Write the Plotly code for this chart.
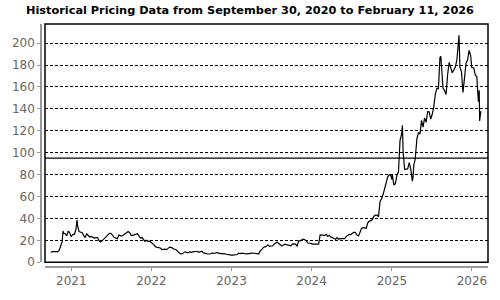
import plotly.graph_objects as go

TITLE = "Historical Pricing Data from September 30, 2020 to February 11, 2026"

dates = [
    "2020-09-30", "2020-10-02", "2020-10-09", "2020-10-16", "2020-10-23", "2020-10-30",
    "2020-11-06", "2020-11-13", "2020-11-20", "2020-11-24", "2020-11-27", "2020-12-04",
    "2020-12-11", "2020-12-18", "2020-12-24", "2020-12-31",
    "2021-01-08", "2021-01-15", "2021-01-22", "2021-01-27", "2021-01-29", "2021-02-05",
    "2021-02-12", "2021-02-19", "2021-02-26", "2021-03-05", "2021-03-12", "2021-03-19",
    "2021-03-26", "2021-04-01", "2021-04-09", "2021-04-16", "2021-04-23", "2021-04-30",
    "2021-05-07", "2021-05-14", "2021-05-21", "2021-05-28", "2021-06-04", "2021-06-11",
    "2021-06-18", "2021-06-25", "2021-07-02", "2021-07-09", "2021-07-16", "2021-07-23",
    "2021-07-30", "2021-08-06", "2021-08-13", "2021-08-20", "2021-08-27", "2021-09-03",
    "2021-09-10", "2021-09-17", "2021-09-24", "2021-10-01", "2021-10-08", "2021-10-15",
    "2021-10-22", "2021-10-29", "2021-11-05", "2021-11-12", "2021-11-19", "2021-11-26",
    "2021-12-03", "2021-12-10", "2021-12-17", "2021-12-23", "2021-12-31",
    "2022-01-07", "2022-01-14", "2022-01-21", "2022-01-28", "2022-02-04", "2022-02-11",
    "2022-02-18", "2022-02-25", "2022-03-04", "2022-03-11", "2022-03-18", "2022-03-25",
    "2022-04-01", "2022-04-08", "2022-04-14", "2022-04-22", "2022-04-29", "2022-05-06",
    "2022-05-13", "2022-05-20", "2022-05-27", "2022-06-03", "2022-06-10", "2022-06-17",
    "2022-06-24", "2022-07-01", "2022-07-08", "2022-07-15", "2022-07-22", "2022-07-29",
    "2022-08-05", "2022-08-12", "2022-08-19", "2022-08-26", "2022-09-02", "2022-09-09",
    "2022-09-16", "2022-09-23", "2022-09-30", "2022-10-07", "2022-10-14", "2022-10-21",
    "2022-10-28", "2022-11-04", "2022-11-11", "2022-11-18", "2022-11-25", "2022-12-02",
    "2022-12-09", "2022-12-16", "2022-12-23", "2022-12-30",
    "2023-01-06", "2023-01-13", "2023-01-20", "2023-01-27", "2023-02-03", "2023-02-10",
    "2023-02-17", "2023-02-24", "2023-03-03", "2023-03-10", "2023-03-17", "2023-03-24",
    "2023-03-31", "2023-04-06", "2023-04-14", "2023-04-21", "2023-04-28", "2023-05-05",
    "2023-05-12", "2023-05-19", "2023-05-26", "2023-06-02", "2023-06-09", "2023-06-16",
    "2023-06-23", "2023-06-30", "2023-07-07", "2023-07-14", "2023-07-21", "2023-07-28",
    "2023-08-04", "2023-08-11", "2023-08-18", "2023-08-25", "2023-09-01", "2023-09-08",
    "2023-09-15", "2023-09-22", "2023-09-29", "2023-10-06", "2023-10-13", "2023-10-20",
    "2023-10-27", "2023-11-03", "2023-11-10", "2023-11-17", "2023-11-24", "2023-12-01",
    "2023-12-08", "2023-12-15", "2023-12-22", "2023-12-29",
    "2024-01-05", "2024-01-12", "2024-01-19", "2024-01-26", "2024-02-02", "2024-02-09",
    "2024-02-16", "2024-02-23", "2024-03-01", "2024-03-08", "2024-03-15", "2024-03-22",
    "2024-03-28", "2024-04-05", "2024-04-12", "2024-04-19", "2024-04-26", "2024-05-03",
    "2024-05-10", "2024-05-17", "2024-05-24", "2024-05-31", "2024-06-07", "2024-06-14",
    "2024-06-21", "2024-06-28", "2024-07-05", "2024-07-12", "2024-07-19", "2024-07-26",
    "2024-08-02", "2024-08-09", "2024-08-16", "2024-08-23", "2024-08-30", "2024-09-06",
    "2024-09-13", "2024-09-20", "2024-09-27", "2024-10-04", "2024-10-11", "2024-10-18",
    "2024-10-25", "2024-11-01", "2024-11-08", "2024-11-15", "2024-11-22", "2024-11-29",
    "2024-12-06", "2024-12-13", "2024-12-20", "2024-12-27", "2024-12-31",
    "2025-01-03", "2025-01-10", "2025-01-17", "2025-01-24", "2025-01-31", "2025-02-07",
    "2025-02-14", "2025-02-18", "2025-02-21", "2025-02-28", "2025-03-07", "2025-03-14",
    "2025-03-21", "2025-03-28", "2025-04-04", "2025-04-07", "2025-04-11", "2025-04-17",
    "2025-04-25", "2025-05-02", "2025-05-09", "2025-05-16", "2025-05-23", "2025-05-30",
    "2025-06-06", "2025-06-13", "2025-06-20", "2025-06-27", "2025-07-03", "2025-07-11",
    "2025-07-18", "2025-07-25", "2025-08-01", "2025-08-08", "2025-08-12", "2025-08-15",
    "2025-08-22", "2025-08-29", "2025-09-05", "2025-09-12", "2025-09-19", "2025-09-26",
    "2025-10-03", "2025-10-10", "2025-10-17", "2025-10-24", "2025-10-31", "2025-11-03",
    "2025-11-07", "2025-11-14", "2025-11-21", "2025-11-28", "2025-12-05", "2025-12-12",
    "2025-12-19", "2025-12-26", "2025-12-31",
    "2026-01-09", "2026-01-16", "2026-01-23", "2026-01-30", "2026-02-03", "2026-02-05",
    "2026-02-09", "2026-02-11",
]

prices = [
    9.5, 9.2, 9.6, 9.9, 9.8, 9.5,
    10.6, 14.6, 18.5, 28.5, 26.5, 26.0,
    24.0, 28.5, 27.0, 23.6,
    25.2, 25.6, 30.0, 38.5, 34.0, 28.0,
    27.5, 27.0, 24.5, 22.5, 26.0, 24.0,
    23.0, 23.5, 23.0, 22.0, 22.5, 22.5,
    20.0, 18.5, 19.5, 21.0, 22.0, 24.0,
    25.0, 26.5, 26.0, 24.0, 22.5, 22.0,
    21.5, 25.0, 24.0, 24.0, 25.5, 26.0,
    27.0, 28.0, 27.0, 24.5, 24.5, 25.0,
    25.0, 26.0, 24.0, 22.0, 22.5, 21.0,
    19.0, 20.0, 19.0, 19.2, 18.2,
    17.0, 15.5, 14.0, 13.5, 13.5, 13.0,
    11.5, 12.0, 12.0, 11.5, 13.0, 13.8,
    13.5, 12.5, 12.0, 11.5, 10.3, 9.5,
    7.5, 7.5, 8.5, 9.5, 9.0, 8.5,
    9.5, 9.0, 9.5, 9.5, 9.5, 10.0,
    9.0, 9.5, 10.0, 8.5, 8.0, 8.0,
    7.5, 7.5, 8.1, 8.5, 8.0, 8.5,
    9.0, 8.0, 8.0, 7.8, 7.8, 7.7,
    7.3, 6.8, 6.3, 6.4,
    6.5, 6.8, 6.9, 7.0, 8.3, 7.8,
    8.3, 7.8, 7.8, 7.7, 7.9, 8.0,
    8.5, 8.3, 8.2, 8.3, 7.8, 7.4,
    10.5, 11.5, 13.5, 14.0, 14.5, 15.8,
    14.5, 14.8, 14.8, 16.5, 18.0, 18.5,
    17.0, 15.8, 15.0, 15.5, 16.5, 16.0,
    15.8, 15.3, 15.0, 16.8, 16.5, 16.5,
    14.5, 19.5, 19.5, 20.5, 21.0, 20.5,
    19.5, 17.5, 17.5, 17.2,
    16.5, 16.5, 16.0, 16.5, 16.5, 25.0,
    25.0, 24.5, 24.5, 25.5, 23.5, 24.5,
    23.0, 22.5, 21.5, 21.0, 22.5, 21.0,
    21.5, 21.5, 21.0, 21.5, 23.5, 24.5,
    25.5, 25.3, 26.5, 27.5, 27.0, 24.8,
    24.0, 28.5, 31.0, 31.5, 31.5, 31.0,
    36.0, 37.5, 38.0, 39.0, 42.0, 43.0,
    43.0, 41.5, 55.5, 58.0, 62.0, 67.0,
    72.0, 78.0, 80.0, 79.5, 75.6,
    79.8, 70.5, 71.8, 79.5, 82.5, 111.0,
    117.0, 125.0, 101.0, 84.8, 84.8, 85.2,
    90.9, 85.0, 74.0, 77.0, 88.6, 93.8,
    112.8, 118.4, 117.0, 129.5, 123.3, 131.8,
    127.7, 137.4, 137.3, 130.7, 134.4, 142.1,
    153.5, 158.8, 158.4, 186.9, 188.0, 177.2,
    158.7, 156.7, 153.1, 171.4, 182.4, 177.6,
    173.0, 175.4, 178.2, 184.6, 200.5, 207.2,
    177.9, 174.0, 154.9, 168.5, 181.8, 184.9,
    193.4, 188.7, 177.8,
    177.5, 170.9, 169.6, 146.6, 157.0, 129.0,
    136.0, 138.0,
]

y_ticks = [0, 20, 40, 60, 80, 100, 120, 140, 160, 180, 200]
x_ticks = ["2021-01-01", "2022-01-01", "2023-01-01", "2024-01-01", "2025-01-01", "2026-01-01"]
x_tick_labels = ["2021", "2022", "2023", "2024", "2025", "2026"]
ref_level = 95

fig = go.Figure()
fig.add_trace(go.Scatter(x=dates, y=prices, mode="lines",
                         line=dict(color="black", width=1.2), hoverinfo="skip"))

axis_gray = "#999999"
label_font = dict(family="DejaVu Sans", size=12, color="#666666")

fig.update_layout(
    width=500, height=300,
    margin=dict(l=41, r=12, t=24, b=22),
    paper_bgcolor="white", plot_bgcolor="white",
    showlegend=False,
    title=dict(text="<b>" + TITLE + "</b>", x=0.5, xanchor="center",
               y=1 - 10 / 300, yanchor="middle", yref="container",
               font=dict(family="DejaVu Sans", size=11.3, color="black")),
    xaxis=dict(type="date", domain=[4 / 447, 1], anchor="free", position=0,
               range=["2020-09-03", "2026-03-15"],
               tickvals=x_ticks, ticktext=x_tick_labels,
               showgrid=False, zeroline=False,
               showline=True, linecolor=axis_gray, linewidth=1.5,
               ticks="outside", ticklen=3, tickcolor=axis_gray, tickwidth=1,
               tickfont=label_font),
    yaxis=dict(domain=[5 / 254, 1], anchor="free", position=0,
               range=[0, 217.5], tickvals=y_ticks,
               showgrid=True, gridcolor="black", gridwidth=1, griddash="3px,2px",
               zeroline=False,
               showline=True, linecolor=axis_gray, linewidth=1.5,
               ticks="outside", ticklen=3, tickcolor=axis_gray, tickwidth=1,
               tickfont=label_font),
)

fig.add_shape(type="line", xref="x domain", yref="y", x0=0, x1=1,
              y0=ref_level, y1=ref_level, line=dict(color="black", width=1.3))
fig.add_shape(type="rect", xref="x domain", yref="y domain", x0=0, x1=1, y0=0, y1=1,
              line=dict(color="black", width=1.5), layer="above")

fig.write_html("out.html")
